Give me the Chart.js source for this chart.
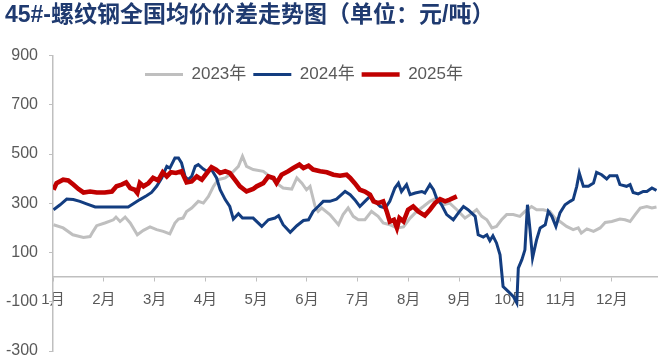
<!DOCTYPE html>
<html>
<head>
<meta charset="utf-8">
<script src="https://cdn.jsdelivr.net/npm/chart.js@4.4.0/dist/chart.umd.min.js"></script>
<style>
    html, body { margin: 0; padding: 0; background: #fff; }
    #chart-container { width: 660px; height: 357px; }
</style>
</head>
<body>
<div id="chart-container"><canvas id="myChart"></canvas></div>
<script>
const seriesLabels = ['2023年', '2024年', '2025年'];
const monthLabels = ['1月', '2月', '3月', '4月', '5月', '6月', '7月', '8月', '9月', '10月', '11月', '12月'];

// x = months since 1 Jan (0 = 1月), y = 元/吨
const months2023 = [
    0.01, 0.20, 0.39, 0.60, 0.73, 0.79, 0.86,
    1.02, 1.19, 1.24, 1.32, 1.42, 1.52, 1.66, 1.78, 1.91,
    2.04, 2.17, 2.30, 2.40, 2.47, 2.56, 2.63, 2.73, 2.86, 2.96,
    3.06, 3.16, 3.25, 3.39, 3.52, 3.65, 3.73, 3.81, 3.94,
    4.14, 4.27, 4.40, 4.53, 4.70, 4.80, 4.90, 4.99,
    5.06, 5.16, 5.22, 5.29, 5.45, 5.62, 5.71, 5.81, 5.91,
    6.01, 6.14, 6.27, 6.40, 6.50, 6.63, 6.77, 6.90,
    7.03, 7.16, 7.29, 7.42, 7.55, 7.68, 7.81, 7.95,
    8.11, 8.21, 8.34, 8.44, 8.54, 8.64, 8.73, 8.83, 8.93,
    9.06, 9.19, 9.29, 9.42, 9.52, 9.65, 9.78, 9.88, 9.98,
    10.11, 10.24, 10.34, 10.40, 10.51, 10.64, 10.77, 10.87,
    11.00, 11.16, 11.26, 11.36, 11.46, 11.56, 11.69, 11.79, 11.88
];
const values2023 = [
    213, 200, 172, 161, 165, 186, 209,
    220, 233, 244, 226, 244, 220, 172, 190, 204,
    193, 186, 176, 220, 236, 240, 267, 281, 308, 301,
    328, 369, 396, 403, 423, 450, 491, 450, 437,
    430, 409, 382, 362, 358, 403, 382, 355,
    369, 287, 267, 281, 254, 213, 254, 281, 247,
    233, 233, 267, 247, 220, 213, 200, 204,
    240, 267, 287, 308, 321, 294, 301, 274,
    240, 254, 274, 247, 233, 200, 206, 233, 254,
    254, 247, 267, 287, 274, 274, 267, 240, 226,
    206, 193, 200, 179, 196, 186, 200, 222,
    226, 236, 233, 226, 254, 281, 287, 281, 285
];

const months2024 = [
    0.01, 0.14, 0.27, 0.40, 0.53, 0.66, 0.83,
    1.12, 1.48, 1.58, 1.71, 1.84, 1.94,
    2.04, 2.14, 2.24, 2.30, 2.40, 2.47, 2.53, 2.60, 2.66, 2.73, 2.80, 2.86, 2.96,
    3.03, 3.12, 3.22, 3.29, 3.39, 3.48, 3.55, 3.65, 3.73, 3.94,
    4.11, 4.24, 4.37, 4.44, 4.53, 4.67, 4.80, 4.93,
    5.03, 5.12, 5.22, 5.32, 5.45, 5.58, 5.75, 5.85, 5.94,
    6.04, 6.14, 6.24, 6.34, 6.44, 6.54, 6.63, 6.73, 6.80, 6.86, 6.96,
    7.03, 7.13, 7.26, 7.32, 7.42, 7.49, 7.55, 7.65, 7.75, 7.88, 7.98,
    8.08, 8.17, 8.31, 8.37, 8.47, 8.54, 8.60, 8.66, 8.73, 8.80, 8.86, 8.96,
    9.06, 9.13, 9.16, 9.23, 9.29, 9.34, 9.39, 9.44, 9.52, 9.59, 9.69, 9.75, 9.82, 9.90, 9.98,
    10.08, 10.18, 10.24, 10.31, 10.36, 10.44, 10.54, 10.64, 10.70, 10.80, 10.90, 10.96,
    11.10, 11.16, 11.29, 11.36, 11.42, 11.52, 11.62, 11.69, 11.79, 11.88
];
const values2024 = [
    274, 294, 317, 315, 308, 298, 285,
    285, 285, 298, 315, 331, 344,
    369, 403, 450, 443, 484, 484, 464, 409, 396, 409, 450, 457, 439,
    430, 437, 403, 355, 315, 287, 236, 258, 240, 240,
    206, 233, 240, 250, 213, 182, 209, 230,
    233, 267, 287, 308, 308, 317, 348, 335, 315,
    287, 308, 328, 308, 287, 281, 308, 362, 382, 348, 376,
    335, 342, 348, 342, 376, 355, 321, 294, 254, 233, 261,
    287, 274, 247, 172, 163, 172, 148, 168, 139, 91, -38, -58,
    -78, -105, 37, 71, 111, 294, 193, 78, 152, 200, 213, 267, 247, 206, 261,
    294, 308, 315, 369, 423, 369, 369, 382, 426, 416, 399, 412,
    412, 376, 369, 376, 344, 338, 348, 348, 362, 352
];

const months2025 = [
    0.01, 0.07, 0.20, 0.30, 0.40, 0.50, 0.60, 0.73, 0.86,
    1.02, 1.16, 1.25, 1.35, 1.44, 1.52, 1.61, 1.66, 1.71, 1.78, 1.88, 1.97,
    2.07, 2.16, 2.24, 2.32, 2.42, 2.53, 2.63, 2.73, 2.83, 2.93,
    3.03, 3.12, 3.21, 3.29, 3.39, 3.48, 3.58, 3.68, 3.81, 3.94,
    4.01, 4.14, 4.24, 4.34, 4.40, 4.50, 4.63, 4.73, 4.85, 4.93,
    5.03, 5.12, 5.26, 5.39, 5.52, 5.65, 5.78, 5.85, 5.94,
    6.04, 6.14, 6.24, 6.31, 6.40, 6.50, 6.57, 6.63, 6.71, 6.77, 6.82, 6.90, 6.99,
    7.09, 7.19, 7.32, 7.42, 7.52, 7.62, 7.72, 7.81, 7.95
];
const values2025 = [
    355, 382, 396, 393, 376, 358, 344, 348, 344,
    344, 348, 369, 376, 385, 362, 355, 342, 382, 369, 382, 403,
    393, 426, 409, 426, 423, 430, 385, 389, 409, 396,
    423, 447, 437, 423, 430, 423, 396, 369, 348, 358,
    369, 382, 409, 403, 382, 416, 430, 443, 457, 443,
    453, 437, 430, 426, 416, 412, 416, 403, 382,
    355, 348, 335, 308, 301, 308, 267, 226, 233, 200, 240, 226, 274,
    287, 267, 250, 274, 301, 317, 308, 315, 328
];

const fontFamily = '"Liberation Sans", "Noto Sans CJK SC", sans-serif';
const axisGray = '#bfbfbf';
const textGray = '#595959';

function toPoints(xs, ys) {
    return xs.map((x, i) => ({ x: x, y: ys[i] }));
}

function makeDataset(label, xs, ys, color, width, order) {
    return {
        label: label,
        data: toPoints(xs, ys),
        borderColor: color,
        backgroundColor: color,
        borderWidth: width,
        pointRadius: 0,
        pointHoverRadius: 0,
        pointBorderWidth: width,
        pointBorderColor: color,
        pointBackgroundColor: color,
        tension: 0,
        order: order
    };
}

// legend sits inside the plot area, left of centre
const legendPlacement = {
    id: 'legendPlacement',
    afterLayout(chart) {
        const lg = chart.legend;
        lg.left = 138;
        lg.top = 59;
        lg.right = 600;
        lg.bottom = 96;
        lg.width = lg.right - lg.left;
        lg.height = lg.bottom - lg.top;
    }
};

const ctx = document.getElementById('myChart').getContext('2d');
const myChart = new Chart(ctx, {
    type: 'line',
    data: {
        datasets: [
            makeDataset(seriesLabels[0], months2023, values2023, '#bfbfbf', 3, 3),
            makeDataset(seriesLabels[1], months2024, values2024, '#133d80', 3, 2),
            makeDataset(seriesLabels[2], months2025, values2025, '#c00000', 4.6, 1)
        ]
    },
    plugins: [legendPlacement],
    options: {
        responsive: true,
        maintainAspectRatio: false,
        animation: false,
        events: [],
        layout: {
            padding: { left: 5, right: 3, top: 0, bottom: 6 }
        },
        plugins: {
            title: {
                display: true,
                text: '45#-螺纹钢全国均价价差走势图（单位：元/吨）',
                align: 'start',
                color: '#1f3a70',
                font: { family: fontFamily, size: 23, weight: 'bold' },
                padding: { top: 2, bottom: 25 }
            },
            legend: {
                display: true,
                position: 'top',
                align: 'start',
                maxHeight: 1,
                labels: {
                    usePointStyle: true,
                    pointStyle: 'line',
                    pointStyleWidth: 38,
                    boxWidth: 38,
                    padding: 7,
                    color: textGray,
                    font: { family: fontFamily, size: 17 },
                    sort: (a, b) => a.datasetIndex - b.datasetIndex
                }
            },
            tooltip: { enabled: false }
        },
        scales: {
            x: {
                type: 'linear',
                position: { y: 0 },
                min: 0,
                max: 11.89,
                afterFit(scale) {
                    scale.height = 0;
                },
                ticks: {
                    stepSize: 1,
                    includeBounds: false,
                    autoSkip: false,
                    maxRotation: 0,
                    padding: 10,
                    color: textGray,
                    font: { family: fontFamily, size: 15 },
                    callback: (v) => Number.isInteger(v) ? monthLabels[v] : ''
                },
                grid: {
                    drawOnChartArea: false,
                    drawTicks: true,
                    tickLength: 4,
                    color: axisGray
                },
                border: { color: axisGray, width: 1.5 }
            },
            y: {
                min: -300,
                max: 900,
                afterFit(scale) {
                    scale.width = 48;
                    scale.paddingTop = 0;
                    scale.paddingBottom = 0;
                },
                ticks: {
                    stepSize: 200,
                    padding: 11,
                    color: textGray,
                    font: { family: fontFamily, size: 16 }
                },
                grid: {
                    drawOnChartArea: false,
                    drawTicks: true,
                    tickLength: 4,
                    color: axisGray
                },
                border: { color: axisGray, width: 1.5 }
            }
        }
    }
});
</script>
</body>
</html>
